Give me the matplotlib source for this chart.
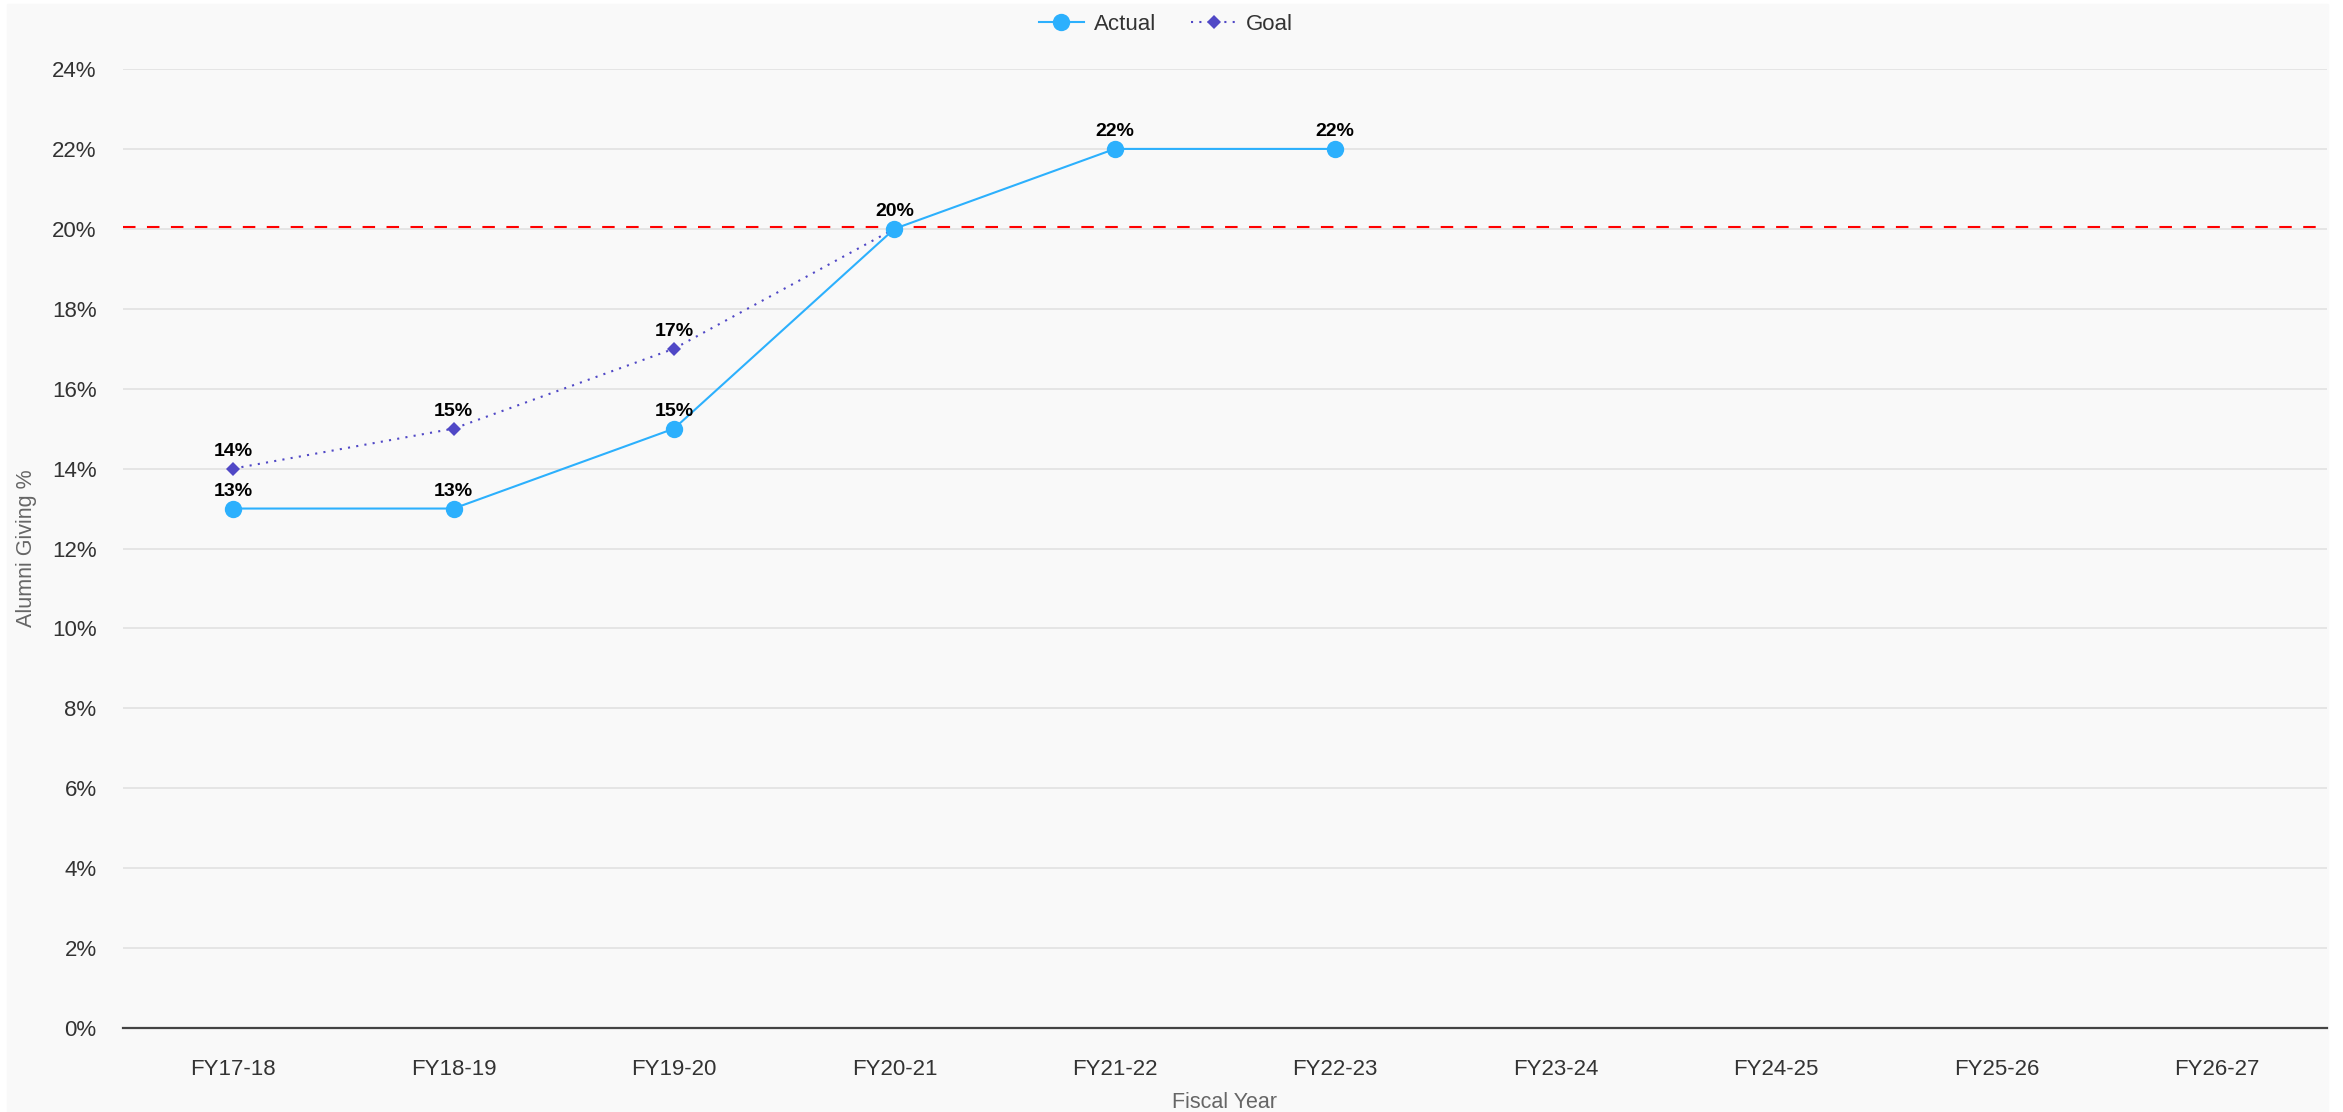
import matplotlib.pyplot as plt
from matplotlib.patches import Rectangle
from matplotlib.ticker import FuncFormatter

plt.rcParams['font.family'] = ['Liberation Sans', 'DejaVu Sans']

# data
years = ['FY17-18', 'FY18-19', 'FY19-20', 'FY20-21', 'FY21-22',
         'FY22-23', 'FY23-24', 'FY24-25', 'FY25-26', 'FY26-27']
actual = [13, 13, 15, 20, 22, 22]
goal = [14, 15, 17, 20]
goal_labels = ['14%', '15%', '17%', '']
actual_labels = ['13%', '13%', '15%', '20%', '22%', '22%']
target = 20.05

W, H = 2343, 1112
fig = plt.figure(figsize=(W / 100, H / 100), dpi=100, facecolor='white')
fig.patches.append(Rectangle((7 / W, 0), (2328 - 7) / W, 1 - 4 / H,
                             transform=fig.transFigure, color='#f9f9f9', zorder=-10))
ax = fig.add_axes([123 / W, 1 - 1028 / H, (2327 - 123) / W, (1028 - 69) / H])
ax.set_facecolor('#f9f9f9')

xa = list(range(len(actual)))
xg = list(range(len(goal)))

ax.axhline(target, color='#ff0000', lw=1.5, ls=(0, (6, 5.5)), zorder=2)

ax.plot(xg, goal, color='#5048c6', lw=1.5, ls=(0, (1, 3)), marker='D',
        markersize=7, markeredgewidth=0, label='Goal', zorder=3)
ax.plot(xa, actual, color='#2cb0fd', lw=1.5, marker='o', markersize=12.5,
        markeredgewidth=0, label='Actual', zorder=4)

for x, y, t in zip(xg, goal, goal_labels):
    if t:
        ax.annotate(t, (x, y), xytext=(0, 12.5), textcoords='offset points',
                    ha='center', va='center', fontsize=14, fontweight='bold',
                    color='black', zorder=5)
for x, y, t in zip(xa, actual, actual_labels):
    ax.annotate(t, (x, y), xytext=(0, 12.5), textcoords='offset points',
                ha='center', va='center', fontsize=14, fontweight='bold',
                color='black', zorder=5)

ax.set_xlim(-0.5, len(years) - 0.5)
ax.set_ylim(0, 24)
ax.set_xticks(range(len(years)))
ax.set_xticklabels(years)
ax.set_yticks(range(0, 25, 2))
ax.yaxis.set_major_formatter(FuncFormatter(lambda v, p: f'{v:.0f}%'))
ax.tick_params(axis='both', length=0, labelsize=16, labelcolor='#333333')
ax.tick_params(axis='x', pad=22)
ax.tick_params(axis='y', pad=19)
ax.grid(axis='y', color='#e2e2e2', lw=1.2, zorder=1)
ax.set_axisbelow(True)
for s in ['top', 'right', 'left']:
    ax.spines[s].set_visible(False)
ax.spines['bottom'].set_color('#444444')
ax.spines['bottom'].set_linewidth(1.6)
ax.spines['bottom'].set_zorder(3)

ax.set_xlabel('Fiscal Year', fontsize=15.5, color='#666666', labelpad=8)
ax.set_ylabel('Alumni Giving %', fontsize=15.5, color='#666666')
ax.yaxis.set_label_coords(-(123 - 27) / (2327 - 123), 0.5)
ax.xaxis.set_label_coords(0.5, -(1103 - 1028) / (1028 - 69))
ax.xaxis.label.set_va('center')
ax.yaxis.label.set_va('center')

h, l = ax.get_legend_handles_labels()
fig.legend([h[1], h[0]], [l[1], l[0]], loc='center', bbox_to_anchor=(1166 / W, 1 - 24 / H),
           ncol=2, frameon=False, fontsize=16, handlelength=2.0, columnspacing=1.6,
           handletextpad=0.45, labelcolor='#333333')

fig.savefig('out.png', dpi=100, facecolor=fig.get_facecolor())
